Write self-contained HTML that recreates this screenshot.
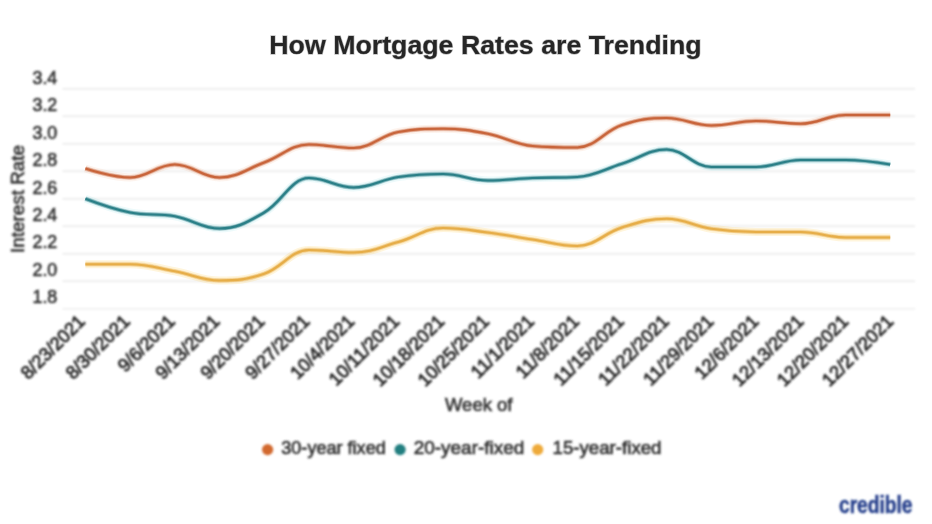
<!DOCTYPE html>
<html lang="en"><head><meta charset="utf-8"><title>How Mortgage Rates are Trending</title>
<style>html,body{margin:0;padding:0;background:#fff;}body{width:932px;height:524px;overflow:hidden;}svg{display:block;font-family:"Liberation Sans",sans-serif;}</style></head><body>
<svg width="932" height="524" viewBox="0 0 932 524">
<defs><filter id="b" x="-5%" y="-5%" width="110%" height="110%"><feGaussianBlur stdDeviation="0.9"/></filter></defs>
<rect width="932" height="524" fill="#ffffff"/>
<g filter="url(#b)">
<line x1="62.5" x2="915" y1="88.70" y2="88.70" stroke="#e9e9e9" stroke-width="1.5"/>
<line x1="62.5" x2="915" y1="116.20" y2="116.20" stroke="#e9e9e9" stroke-width="1.5"/>
<line x1="62.5" x2="915" y1="143.70" y2="143.70" stroke="#e9e9e9" stroke-width="1.5"/>
<line x1="62.5" x2="915" y1="171.20" y2="171.20" stroke="#e9e9e9" stroke-width="1.5"/>
<line x1="62.5" x2="915" y1="198.70" y2="198.70" stroke="#e9e9e9" stroke-width="1.5"/>
<line x1="62.5" x2="915" y1="226.20" y2="226.20" stroke="#e9e9e9" stroke-width="1.5"/>
<line x1="62.5" x2="915" y1="253.70" y2="253.70" stroke="#e9e9e9" stroke-width="1.5"/>
<line x1="62.5" x2="915" y1="281.20" y2="281.20" stroke="#e9e9e9" stroke-width="1.5"/>
<line x1="62.5" x2="915" y1="308.70" y2="308.70" stroke="#eeeeee" stroke-width="1.5"/>
<text x="32.5" y="84.10" font-size="18.2" fill="#333333" textLength="24.8" lengthAdjust="spacingAndGlyphs" stroke="#333333" stroke-width="0.65">3.4</text>
<text x="32.5" y="111.45" font-size="18.2" fill="#333333" textLength="24.8" lengthAdjust="spacingAndGlyphs" stroke="#333333" stroke-width="0.65">3.2</text>
<text x="32.5" y="138.80" font-size="18.2" fill="#333333" textLength="24.8" lengthAdjust="spacingAndGlyphs" stroke="#333333" stroke-width="0.65">3.0</text>
<text x="32.5" y="166.15" font-size="18.2" fill="#333333" textLength="24.8" lengthAdjust="spacingAndGlyphs" stroke="#333333" stroke-width="0.65">2.8</text>
<text x="32.5" y="193.50" font-size="18.2" fill="#333333" textLength="24.8" lengthAdjust="spacingAndGlyphs" stroke="#333333" stroke-width="0.65">2.6</text>
<text x="32.5" y="220.85" font-size="18.2" fill="#333333" textLength="24.8" lengthAdjust="spacingAndGlyphs" stroke="#333333" stroke-width="0.65">2.4</text>
<text x="32.5" y="248.20" font-size="18.2" fill="#333333" textLength="24.8" lengthAdjust="spacingAndGlyphs" stroke="#333333" stroke-width="0.65">2.2</text>
<text x="32.5" y="275.55" font-size="18.2" fill="#333333" textLength="24.8" lengthAdjust="spacingAndGlyphs" stroke="#333333" stroke-width="0.65">2.0</text>
<text x="32.5" y="302.90" font-size="18.2" fill="#333333" textLength="24.8" lengthAdjust="spacingAndGlyphs" stroke="#333333" stroke-width="0.65">1.8</text>
<text transform="translate(24 253) rotate(-90)" font-size="19" fill="#333333" textLength="108" lengthAdjust="spacingAndGlyphs" stroke="#333333" stroke-width="0.65">Interest Rate</text>
<text transform="translate(86.10 322.5) rotate(-45)" text-anchor="end" font-size="18.4" fill="#2c2c2c" stroke="#2c2c2c" stroke-width="0.85">8/23/2021</text>
<text transform="translate(131.01 322.5) rotate(-45)" text-anchor="end" font-size="18.4" fill="#2c2c2c" stroke="#2c2c2c" stroke-width="0.85">8/30/2021</text>
<text transform="translate(175.92 322.5) rotate(-45)" text-anchor="end" font-size="18.4" fill="#2c2c2c" stroke="#2c2c2c" stroke-width="0.85">9/6/2021</text>
<text transform="translate(220.83 322.5) rotate(-45)" text-anchor="end" font-size="18.4" fill="#2c2c2c" stroke="#2c2c2c" stroke-width="0.85">9/13/2021</text>
<text transform="translate(265.74 322.5) rotate(-45)" text-anchor="end" font-size="18.4" fill="#2c2c2c" stroke="#2c2c2c" stroke-width="0.85">9/20/2021</text>
<text transform="translate(310.66 322.5) rotate(-45)" text-anchor="end" font-size="18.4" fill="#2c2c2c" stroke="#2c2c2c" stroke-width="0.85">9/27/2021</text>
<text transform="translate(355.57 322.5) rotate(-45)" text-anchor="end" font-size="18.4" fill="#2c2c2c" stroke="#2c2c2c" stroke-width="0.85">10/4/2021</text>
<text transform="translate(400.48 322.5) rotate(-45)" text-anchor="end" font-size="18.4" fill="#2c2c2c" stroke="#2c2c2c" stroke-width="0.85">10/11/2021</text>
<text transform="translate(445.39 322.5) rotate(-45)" text-anchor="end" font-size="18.4" fill="#2c2c2c" stroke="#2c2c2c" stroke-width="0.85">10/18/2021</text>
<text transform="translate(490.30 322.5) rotate(-45)" text-anchor="end" font-size="18.4" fill="#2c2c2c" stroke="#2c2c2c" stroke-width="0.85">10/25/2021</text>
<text transform="translate(535.21 322.5) rotate(-45)" text-anchor="end" font-size="18.4" fill="#2c2c2c" stroke="#2c2c2c" stroke-width="0.85">11/1/2021</text>
<text transform="translate(580.12 322.5) rotate(-45)" text-anchor="end" font-size="18.4" fill="#2c2c2c" stroke="#2c2c2c" stroke-width="0.85">11/8/2021</text>
<text transform="translate(625.03 322.5) rotate(-45)" text-anchor="end" font-size="18.4" fill="#2c2c2c" stroke="#2c2c2c" stroke-width="0.85">11/15/2021</text>
<text transform="translate(669.94 322.5) rotate(-45)" text-anchor="end" font-size="18.4" fill="#2c2c2c" stroke="#2c2c2c" stroke-width="0.85">11/22/2021</text>
<text transform="translate(714.86 322.5) rotate(-45)" text-anchor="end" font-size="18.4" fill="#2c2c2c" stroke="#2c2c2c" stroke-width="0.85">11/29/2021</text>
<text transform="translate(759.77 322.5) rotate(-45)" text-anchor="end" font-size="18.4" fill="#2c2c2c" stroke="#2c2c2c" stroke-width="0.85">12/6/2021</text>
<text transform="translate(804.68 322.5) rotate(-45)" text-anchor="end" font-size="18.4" fill="#2c2c2c" stroke="#2c2c2c" stroke-width="0.85">12/13/2021</text>
<text transform="translate(849.59 322.5) rotate(-45)" text-anchor="end" font-size="18.4" fill="#2c2c2c" stroke="#2c2c2c" stroke-width="0.85">12/20/2021</text>
<text transform="translate(894.50 322.5) rotate(-45)" text-anchor="end" font-size="18.4" fill="#2c2c2c" stroke="#2c2c2c" stroke-width="0.85">12/27/2021</text>
<text x="445" y="411" font-size="19" fill="#333333" textLength="67.5" lengthAdjust="spacingAndGlyphs" stroke="#333333" stroke-width="0.65">Week of</text>
<circle cx="267.60" cy="449.6" r="5.6" fill="#d2692f"/>
<text x="281.25" y="453.5" font-size="17.5" fill="#333333" textLength="104.5" lengthAdjust="spacingAndGlyphs" stroke="#333333" stroke-width="0.65">30-year fixed</text>
<circle cx="400.10" cy="449.6" r="5.6" fill="#237f80"/>
<text x="413.75" y="453.5" font-size="17.5" fill="#333333" textLength="110.5" lengthAdjust="spacingAndGlyphs" stroke="#333333" stroke-width="0.65">20-year-fixed</text>
<circle cx="537.70" cy="449.6" r="5.6" fill="#eeaa3a"/>
<text x="552.50" y="453.5" font-size="17.5" fill="#333333" textLength="109.0" lengthAdjust="spacingAndGlyphs" stroke="#333333" stroke-width="0.65">15-year-fixed</text>
<text x="839" y="512.8" font-size="24" font-weight="bold" fill="#26408c" textLength="73.5" lengthAdjust="spacingAndGlyphs" stroke="#26408c" stroke-width="0.5">credible</text>
</g>
<path d="M85.40 168.50 C85.40 168.50 112.23 177.50 130.11 177.50 C148.00 177.50 156.94 164.50 174.82 164.50 C192.71 164.50 201.65 177.50 219.53 177.50 C237.42 177.50 246.36 169.10 264.24 162.50 C282.13 155.90 291.07 144.50 308.96 144.50 C326.84 144.50 335.78 148.00 353.67 148.00 C371.55 148.00 380.49 135.25 398.38 132.00 C416.26 128.75 425.20 128.75 443.09 128.75 C460.97 128.75 469.92 130.30 487.80 133.75 C505.68 137.20 514.63 144.50 532.51 146.00 C550.40 147.50 559.34 147.50 577.22 147.50 C595.11 147.50 604.05 130.90 621.93 125.00 C639.82 119.10 648.76 118.00 666.64 118.00 C684.53 118.00 693.47 125.50 711.36 125.50 C729.24 125.50 738.18 121.00 756.07 121.00 C773.95 121.00 782.89 123.75 800.78 123.75 C818.66 123.75 827.60 115.00 845.49 115.00 C863.37 115.00 890.20 115.00 890.20 115.00" fill="none" stroke="#f08c50" stroke-opacity="0.10" stroke-width="8"/>
<path d="M85.40 168.50 C85.40 168.50 112.23 177.50 130.11 177.50 C148.00 177.50 156.94 164.50 174.82 164.50 C192.71 164.50 201.65 177.50 219.53 177.50 C237.42 177.50 246.36 169.10 264.24 162.50 C282.13 155.90 291.07 144.50 308.96 144.50 C326.84 144.50 335.78 148.00 353.67 148.00 C371.55 148.00 380.49 135.25 398.38 132.00 C416.26 128.75 425.20 128.75 443.09 128.75 C460.97 128.75 469.92 130.30 487.80 133.75 C505.68 137.20 514.63 144.50 532.51 146.00 C550.40 147.50 559.34 147.50 577.22 147.50 C595.11 147.50 604.05 130.90 621.93 125.00 C639.82 119.10 648.76 118.00 666.64 118.00 C684.53 118.00 693.47 125.50 711.36 125.50 C729.24 125.50 738.18 121.00 756.07 121.00 C773.95 121.00 782.89 123.75 800.78 123.75 C818.66 123.75 827.60 115.00 845.49 115.00 C863.37 115.00 890.20 115.00 890.20 115.00" fill="none" stroke="#c8643a" stroke-opacity="0.25" stroke-width="4.8"/>
<path d="M85.40 168.50 C85.40 168.50 112.23 177.50 130.11 177.50 C148.00 177.50 156.94 164.50 174.82 164.50 C192.71 164.50 201.65 177.50 219.53 177.50 C237.42 177.50 246.36 169.10 264.24 162.50 C282.13 155.90 291.07 144.50 308.96 144.50 C326.84 144.50 335.78 148.00 353.67 148.00 C371.55 148.00 380.49 135.25 398.38 132.00 C416.26 128.75 425.20 128.75 443.09 128.75 C460.97 128.75 469.92 130.30 487.80 133.75 C505.68 137.20 514.63 144.50 532.51 146.00 C550.40 147.50 559.34 147.50 577.22 147.50 C595.11 147.50 604.05 130.90 621.93 125.00 C639.82 119.10 648.76 118.00 666.64 118.00 C684.53 118.00 693.47 125.50 711.36 125.50 C729.24 125.50 738.18 121.00 756.07 121.00 C773.95 121.00 782.89 123.75 800.78 123.75 C818.66 123.75 827.60 115.00 845.49 115.00 C863.37 115.00 890.20 115.00 890.20 115.00" fill="none" stroke="#c8643a" stroke-opacity="0.45" stroke-width="3.5"/>
<path d="M85.40 168.50 C85.40 168.50 112.23 177.50 130.11 177.50 C148.00 177.50 156.94 164.50 174.82 164.50 C192.71 164.50 201.65 177.50 219.53 177.50 C237.42 177.50 246.36 169.10 264.24 162.50 C282.13 155.90 291.07 144.50 308.96 144.50 C326.84 144.50 335.78 148.00 353.67 148.00 C371.55 148.00 380.49 135.25 398.38 132.00 C416.26 128.75 425.20 128.75 443.09 128.75 C460.97 128.75 469.92 130.30 487.80 133.75 C505.68 137.20 514.63 144.50 532.51 146.00 C550.40 147.50 559.34 147.50 577.22 147.50 C595.11 147.50 604.05 130.90 621.93 125.00 C639.82 119.10 648.76 118.00 666.64 118.00 C684.53 118.00 693.47 125.50 711.36 125.50 C729.24 125.50 738.18 121.00 756.07 121.00 C773.95 121.00 782.89 123.75 800.78 123.75 C818.66 123.75 827.60 115.00 845.49 115.00 C863.37 115.00 890.20 115.00 890.20 115.00" fill="none" stroke="#c8643a" stroke-width="2.2"/>
<path d="M85.40 198.75 C85.40 198.75 112.23 209.00 130.11 212.50 C148.00 216.00 156.94 213.05 174.82 216.25 C192.71 219.45 201.65 228.50 219.53 228.50 C237.42 228.50 246.36 222.60 264.24 212.50 C282.13 202.40 291.07 178.00 308.96 178.00 C326.84 178.00 335.78 187.50 353.67 187.50 C371.55 187.50 380.49 179.70 398.38 177.00 C416.26 174.30 425.20 174.00 443.09 174.00 C460.97 174.00 469.92 180.50 487.80 180.50 C505.68 180.50 514.63 178.70 532.51 178.00 C550.40 177.30 559.34 178.00 577.22 177.00 C595.11 176.00 604.05 169.25 621.93 163.75 C639.82 158.25 648.76 149.50 666.64 149.50 C684.53 149.50 693.47 167.00 711.36 167.00 C729.24 167.00 738.18 167.00 756.07 167.00 C773.95 167.00 782.89 160.00 800.78 160.00 C818.66 160.00 827.60 160.00 845.49 160.00 C863.37 160.00 890.20 164.50 890.20 164.50" fill="none" stroke="#3cc8d2" stroke-opacity="0.09" stroke-width="8"/>
<path d="M85.40 198.75 C85.40 198.75 112.23 209.00 130.11 212.50 C148.00 216.00 156.94 213.05 174.82 216.25 C192.71 219.45 201.65 228.50 219.53 228.50 C237.42 228.50 246.36 222.60 264.24 212.50 C282.13 202.40 291.07 178.00 308.96 178.00 C326.84 178.00 335.78 187.50 353.67 187.50 C371.55 187.50 380.49 179.70 398.38 177.00 C416.26 174.30 425.20 174.00 443.09 174.00 C460.97 174.00 469.92 180.50 487.80 180.50 C505.68 180.50 514.63 178.70 532.51 178.00 C550.40 177.30 559.34 178.00 577.22 177.00 C595.11 176.00 604.05 169.25 621.93 163.75 C639.82 158.25 648.76 149.50 666.64 149.50 C684.53 149.50 693.47 167.00 711.36 167.00 C729.24 167.00 738.18 167.00 756.07 167.00 C773.95 167.00 782.89 160.00 800.78 160.00 C818.66 160.00 827.60 160.00 845.49 160.00 C863.37 160.00 890.20 164.50 890.20 164.50" fill="none" stroke="#2a7f87" stroke-opacity="0.25" stroke-width="4.8"/>
<path d="M85.40 198.75 C85.40 198.75 112.23 209.00 130.11 212.50 C148.00 216.00 156.94 213.05 174.82 216.25 C192.71 219.45 201.65 228.50 219.53 228.50 C237.42 228.50 246.36 222.60 264.24 212.50 C282.13 202.40 291.07 178.00 308.96 178.00 C326.84 178.00 335.78 187.50 353.67 187.50 C371.55 187.50 380.49 179.70 398.38 177.00 C416.26 174.30 425.20 174.00 443.09 174.00 C460.97 174.00 469.92 180.50 487.80 180.50 C505.68 180.50 514.63 178.70 532.51 178.00 C550.40 177.30 559.34 178.00 577.22 177.00 C595.11 176.00 604.05 169.25 621.93 163.75 C639.82 158.25 648.76 149.50 666.64 149.50 C684.53 149.50 693.47 167.00 711.36 167.00 C729.24 167.00 738.18 167.00 756.07 167.00 C773.95 167.00 782.89 160.00 800.78 160.00 C818.66 160.00 827.60 160.00 845.49 160.00 C863.37 160.00 890.20 164.50 890.20 164.50" fill="none" stroke="#2a7f87" stroke-opacity="0.45" stroke-width="3.5"/>
<path d="M85.40 198.75 C85.40 198.75 112.23 209.00 130.11 212.50 C148.00 216.00 156.94 213.05 174.82 216.25 C192.71 219.45 201.65 228.50 219.53 228.50 C237.42 228.50 246.36 222.60 264.24 212.50 C282.13 202.40 291.07 178.00 308.96 178.00 C326.84 178.00 335.78 187.50 353.67 187.50 C371.55 187.50 380.49 179.70 398.38 177.00 C416.26 174.30 425.20 174.00 443.09 174.00 C460.97 174.00 469.92 180.50 487.80 180.50 C505.68 180.50 514.63 178.70 532.51 178.00 C550.40 177.30 559.34 178.00 577.22 177.00 C595.11 176.00 604.05 169.25 621.93 163.75 C639.82 158.25 648.76 149.50 666.64 149.50 C684.53 149.50 693.47 167.00 711.36 167.00 C729.24 167.00 738.18 167.00 756.07 167.00 C773.95 167.00 782.89 160.00 800.78 160.00 C818.66 160.00 827.60 160.00 845.49 160.00 C863.37 160.00 890.20 164.50 890.20 164.50" fill="none" stroke="#2a7f87" stroke-width="2.2"/>
<path d="M85.40 264.25 C85.40 264.25 112.23 264.25 130.11 264.25 C148.00 264.25 156.94 268.00 174.82 271.25 C192.71 274.50 201.65 280.50 219.53 280.50 C237.42 280.50 246.36 279.85 264.24 273.75 C282.13 267.65 291.07 250.00 308.96 250.00 C326.84 250.00 335.78 252.50 353.67 252.50 C371.55 252.50 380.49 246.90 398.38 242.00 C416.26 237.10 425.20 228.00 443.09 228.00 C460.97 228.00 469.92 230.20 487.80 232.50 C505.68 234.80 514.63 236.80 532.51 239.50 C550.40 242.20 559.34 246.00 577.22 246.00 C595.11 246.00 604.05 232.95 621.93 227.50 C639.82 222.05 648.76 218.75 666.64 218.75 C684.53 218.75 693.47 226.10 711.36 228.75 C729.24 231.40 738.18 232.00 756.07 232.00 C773.95 232.00 782.89 232.00 800.78 232.00 C818.66 232.00 827.60 237.50 845.49 237.50 C863.37 237.50 890.20 237.50 890.20 237.50" fill="none" stroke="#ffbe28" stroke-opacity="0.16" stroke-width="8"/>
<path d="M85.40 264.25 C85.40 264.25 112.23 264.25 130.11 264.25 C148.00 264.25 156.94 268.00 174.82 271.25 C192.71 274.50 201.65 280.50 219.53 280.50 C237.42 280.50 246.36 279.85 264.24 273.75 C282.13 267.65 291.07 250.00 308.96 250.00 C326.84 250.00 335.78 252.50 353.67 252.50 C371.55 252.50 380.49 246.90 398.38 242.00 C416.26 237.10 425.20 228.00 443.09 228.00 C460.97 228.00 469.92 230.20 487.80 232.50 C505.68 234.80 514.63 236.80 532.51 239.50 C550.40 242.20 559.34 246.00 577.22 246.00 C595.11 246.00 604.05 232.95 621.93 227.50 C639.82 222.05 648.76 218.75 666.64 218.75 C684.53 218.75 693.47 226.10 711.36 228.75 C729.24 231.40 738.18 232.00 756.07 232.00 C773.95 232.00 782.89 232.00 800.78 232.00 C818.66 232.00 827.60 237.50 845.49 237.50 C863.37 237.50 890.20 237.50 890.20 237.50" fill="none" stroke="#e6ad48" stroke-opacity="0.25" stroke-width="4.8"/>
<path d="M85.40 264.25 C85.40 264.25 112.23 264.25 130.11 264.25 C148.00 264.25 156.94 268.00 174.82 271.25 C192.71 274.50 201.65 280.50 219.53 280.50 C237.42 280.50 246.36 279.85 264.24 273.75 C282.13 267.65 291.07 250.00 308.96 250.00 C326.84 250.00 335.78 252.50 353.67 252.50 C371.55 252.50 380.49 246.90 398.38 242.00 C416.26 237.10 425.20 228.00 443.09 228.00 C460.97 228.00 469.92 230.20 487.80 232.50 C505.68 234.80 514.63 236.80 532.51 239.50 C550.40 242.20 559.34 246.00 577.22 246.00 C595.11 246.00 604.05 232.95 621.93 227.50 C639.82 222.05 648.76 218.75 666.64 218.75 C684.53 218.75 693.47 226.10 711.36 228.75 C729.24 231.40 738.18 232.00 756.07 232.00 C773.95 232.00 782.89 232.00 800.78 232.00 C818.66 232.00 827.60 237.50 845.49 237.50 C863.37 237.50 890.20 237.50 890.20 237.50" fill="none" stroke="#e6ad48" stroke-opacity="0.45" stroke-width="3.5"/>
<path d="M85.40 264.25 C85.40 264.25 112.23 264.25 130.11 264.25 C148.00 264.25 156.94 268.00 174.82 271.25 C192.71 274.50 201.65 280.50 219.53 280.50 C237.42 280.50 246.36 279.85 264.24 273.75 C282.13 267.65 291.07 250.00 308.96 250.00 C326.84 250.00 335.78 252.50 353.67 252.50 C371.55 252.50 380.49 246.90 398.38 242.00 C416.26 237.10 425.20 228.00 443.09 228.00 C460.97 228.00 469.92 230.20 487.80 232.50 C505.68 234.80 514.63 236.80 532.51 239.50 C550.40 242.20 559.34 246.00 577.22 246.00 C595.11 246.00 604.05 232.95 621.93 227.50 C639.82 222.05 648.76 218.75 666.64 218.75 C684.53 218.75 693.47 226.10 711.36 228.75 C729.24 231.40 738.18 232.00 756.07 232.00 C773.95 232.00 782.89 232.00 800.78 232.00 C818.66 232.00 827.60 237.50 845.49 237.50 C863.37 237.50 890.20 237.50 890.20 237.50" fill="none" stroke="#e6ad48" stroke-width="2.2"/>
<text x="269.3" y="54.4" font-size="26.5" font-weight="bold" fill="#262626" stroke="#262626" stroke-opacity="0.3" stroke-width="1.3" paint-order="stroke" textLength="432.3" lengthAdjust="spacingAndGlyphs">How Mortgage Rates are Trending</text>
</svg></body></html>
